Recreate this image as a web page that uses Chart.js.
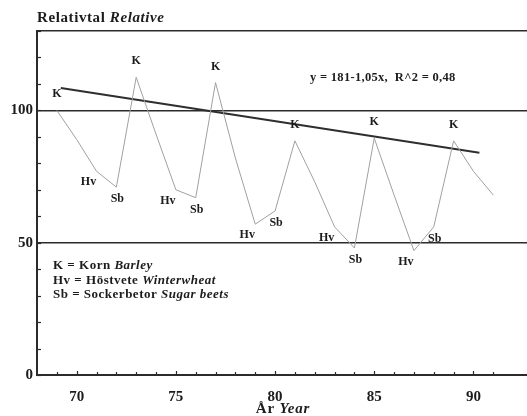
<!DOCTYPE html>
<html>
<head>
<meta charset="utf-8">
<script src="https://cdn.jsdelivr.net/npm/chart.js@4"></script>
<style>
  html, body { margin: 0; padding: 0; background: #fff; }
  #skordar { display: block; }
</style>
</head>
<body>
<canvas id="skordar" width="527" height="416"></canvas>
<script>
// Skördar år för år, relativtal, med gröda per år (K, Hv, Sb, tomt = ingen etikett)
const years  = [69, 70, 71, 72, 73, 74, 75, 76, 77, 78, 79, 80, 81, 82, 83, 84, 85, 86, 87, 88, 89, 90, 91];
const values = [100, 89, 77, 71, 112.5, 91, 70, 67, 110.5, 82, 57, 62, 88.5, 73, 56, 48, 89.5, 68, 47, 56, 88.5, 77, 68];
const crops  = ['K', '', 'Hv', 'Sb', 'K', '', 'Hv', 'Sb', 'K', '', 'Hv', 'Sb', 'K', '', 'Hv', 'Sb', 'K', '', 'Hv', 'Sb', 'K', '', ''];

// Regressionslinjen
const trendYears  = [69.2, 90.3];
const trendValues = [108.5, 84];

const yLabels = [0, 50, 100];
const xLabels = [70, 75, 80, 85, 90];
const refLines = [50, 100, 130];

const SERIF = '"Liberation Serif", "DejaVu Serif", serif';
const INK = '#1c1c1c';

// skriver en rad med blandad rak/kursiv stil
function drawParts(ctx, x, y, parts, size, spacing, align) {
  ctx.letterSpacing = (spacing || 0) + 'px';
  let total = 0;
  parts.forEach(p => {
    ctx.font = (p.italic ? 'italic ' : '') + 'bold ' + size + 'px ' + SERIF;
    total += ctx.measureText(p.text).width;
  });
  let cx = align === 'center' ? x - total / 2 : x;
  parts.forEach(p => {
    ctx.font = (p.italic ? 'italic ' : '') + 'bold ' + size + 'px ' + SERIF;
    ctx.fillText(p.text, cx, y);
    cx += ctx.measureText(p.text).width;
  });
  ctx.letterSpacing = '0px';
}

const innerTicks = {
  id: 'innerTicks',
  afterDraw(chart) {
    const { ctx, chartArea: a, scales: { x, y } } = chart;
    ctx.save();
    ctx.strokeStyle = '#2b2b2b';
    ctx.lineWidth = 1.2;
    y.ticks.forEach(t => {
      const py = Math.round(y.getPixelForValue(t.value)) + 0.5;
      ctx.beginPath();
      ctx.moveTo(a.left, py);
      ctx.lineTo(a.left + 4, py);
      ctx.stroke();
    });
    x.ticks.forEach(t => {
      if (!Number.isInteger(t.value) || t.value <= x.min) return;
      const px = Math.round(x.getPixelForValue(t.value)) + 0.5;
      ctx.beginPath();
      ctx.moveTo(px, a.bottom);
      ctx.lineTo(px, a.bottom - (t.value % 5 === 0 ? 4 : 3));
      ctx.stroke();
    });
    ctx.restore();
  }
};

const texts = {
  id: 'texts',
  afterDraw(chart) {
    const { ctx } = chart;
    ctx.save();
    ctx.fillStyle = INK;
    ctx.textBaseline = 'middle';

    // grödetiketter vid punkterna
    const pts = chart.getDatasetMeta(0).data;
    const offs = { K: [0, -16], Hv: [-8, 11], Sb: [1, 12] };
    ctx.textAlign = 'center';
    ctx.font = 'bold 12px ' + SERIF;
    crops.forEach((c, i) => {
      if (!c) return;
      const o = offs[c];
      ctx.fillText(c, pts[i].x + o[0], pts[i].y + o[1]);
    });

    ctx.textAlign = 'left';
    drawParts(ctx, 37, 18, [{ text: 'Relativtal ' }, { text: 'Relative', italic: true }], 15, 0.6);
    drawParts(ctx, 310, 78, [{ text: 'y = 181-1,05x,  R^2 = 0,48' }], 12.5, 0.3);

    drawParts(ctx, 53, 266, [{ text: 'K = Korn ' }, { text: 'Barley', italic: true }], 13, 0.5);
    drawParts(ctx, 53, 281, [{ text: 'Hv = Höstvete ' }, { text: 'Winterwheat', italic: true }], 13, 0.5);
    drawParts(ctx, 53, 295, [{ text: 'Sb = Sockerbetor ' }, { text: 'Sugar beets', italic: true }], 13, 0.5);

    drawParts(ctx, 283, 409, [{ text: 'År ' }, { text: 'Year', italic: true }], 15, 0.8, 'center');
    ctx.restore();
  }
};

const ctx = document.getElementById('skordar').getContext('2d');
new Chart(ctx, {
  type: 'line',
  data: {
    datasets: [
      {
        data: years.map((yr, i) => ({ x: yr, y: values[i] })),
        borderColor: '#a0a0a0',
        borderWidth: 1,
        pointRadius: 0,
        tension: 0
      },
      {
        data: trendYears.map((yr, i) => ({ x: yr, y: trendValues[i] })),
        borderColor: '#2e2e2e',
        borderWidth: 2,
        pointRadius: 0
      }
    ]
  },
  options: {
    responsive: false,
    animation: false,
    devicePixelRatio: 1,
    layout: { padding: { top: 31, right: 0, left: 0, bottom: 0 } },
    plugins: { legend: { display: false }, tooltip: { enabled: false } },
    scales: {
      x: {
        type: 'linear',
        min: 68,
        max: 92.7,
        afterFit: s => { s.height = 41; s.paddingLeft = 0; s.paddingRight = 0; },
        grid: { display: false },
        border: { display: true, color: '#2b2b2b', width: 2 },
        ticks: {
          stepSize: 1,
          autoSkip: false,
          maxRotation: 0,
          padding: 5,
          color: INK,
          font: { family: SERIF, size: 15, weight: 'bold' },
          callback: v => xLabels.includes(v) ? String(v) : ''
        }
      },
      y: {
        min: 0,
        max: 130,
        afterFit: s => { s.width = 37; s.paddingTop = 0; s.paddingBottom = 0; },
        grid: {
          drawTicks: false,
          lineWidth: 1.5,
          color: c => refLines.includes(c.tick.value) ? '#2b2b2b' : 'rgba(0,0,0,0)'
        },
        border: { display: true, color: '#2b2b2b', width: 2 },
        ticks: {
          stepSize: 10,
          padding: 4,
          color: INK,
          font: { family: SERIF, size: 15, weight: 'bold' },
          callback: v => yLabels.includes(v) ? String(v) : ''
        }
      }
    }
  },
  plugins: [innerTicks, texts]
});
</script>
</body>
</html>
